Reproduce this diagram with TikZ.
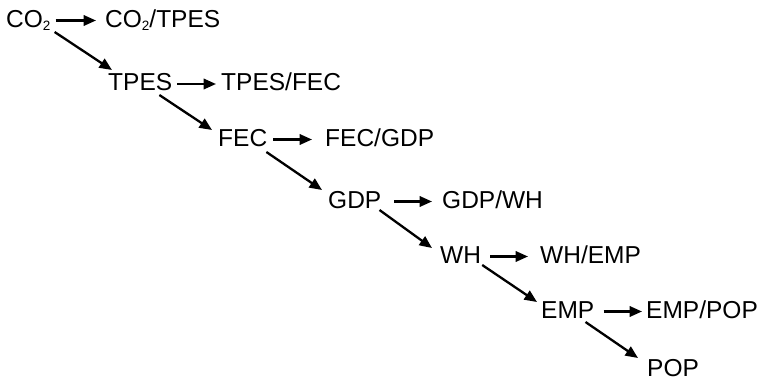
\documentclass[tikz,border=0pt]{standalone}
\usepackage{fontspec}
\setmainfont{Liberation Sans}
\usepackage{tikz}
\usetikzlibrary{arrows.meta}
\newcommand{\subtwo}{\raisebox{-3.7pt}{\fontsize{13.5}{13.5}\selectfont 2}}

\begin{document}
\begin{tikzpicture}[x=1pt,y=-1pt,
		lbl/.style={anchor=base west,inner sep=0pt,font=\fontsize{24.5}{28}\selectfont},
		arr/.style={-{Triangle[length=12.5pt,width=10.5pt]},line width=2.3pt}]
		\useasboundingbox (0,0) rectangle (757,381);
		\node (co2) at (6,27) [lbl] {CO\subtwo};
		\node (co2tpes) at (105,27) [lbl] {CO\subtwo/TPES};
		\node (tpes) at (108,90.5) [lbl] {TPES};
		\node (tpesfec) at (221,90.5) [lbl] {TPES/FEC};
		\node (fec) at (218,146) [lbl] {FEC};
		\node (fecgdp) at (325,146) [lbl] {FEC/GDP};
		\node (gdp) at (328,208) [lbl] {GDP};
		\node (gdpwh) at (442,208) [lbl] {GDP/WH};
		\node (wh) at (440,263) [lbl] {WH};
		\node (whemp) at (540,263) [lbl] {WH/EMP};
		\node (emp) at (541,318) [lbl] {EMP};
		\node (emppop) at (646,318) [lbl] {EMP/POP};
		\node (pop) at (647,376.5) [lbl] {POP};
		% ratios
		\draw [arr] ([shift={(5pt,6.5pt)}]co2.base east)--([shift={(-9pt,6.5pt)}]co2tpes.base west);
		\draw [arr] ([shift={(5pt,6.5pt)}]tpes.base east)--([shift={(-5pt,6.5pt)}]tpesfec.base west);
		\draw [arr] ([shift={(6pt,6.5pt)}]fec.base east)--([shift={(-13pt,6.5pt)}]fecgdp.base west);
		\draw [arr] ([shift={(13pt,6.5pt)}]gdp.base east)--([shift={(-10pt,6.5pt)}]gdpwh.base west);
		\draw [arr] ([shift={(9pt,6.5pt)}]wh.base east)--([shift={(-12pt,6.5pt)}]whemp.base west);
		\draw [arr] ([shift={(9pt,6.5pt)}]emp.base east)--([shift={(-4pt,6.5pt)}]emppop.base west);
		% chain
		\draw [arr] ([shift={(4pt,-5pt)}]co2.base east)--([shift={(4pt,20.5pt)}]tpes.base west);
		\draw [arr] ([shift={(-13pt,-4.5pt)}]tpes.base east)--([shift={(-6pt,16pt)}]fec.base west);
		\draw [arr] ([shift={(-1pt,-6pt)}]fec.base east)--([shift={(-6pt,18pt)}]gdp.base west);
		\draw [arr] ([shift={(-2pt,-2pt)}]gdp.base east)--([shift={(-8pt,15pt)}]wh.base west);
		\draw [arr] ([shift={(1pt,-2pt)}]wh.base east)--([shift={(-4pt,16pt)}]emp.base west);
		\draw [arr] ([shift={(-9pt,-4pt)}]emp.base east)--([shift={(-9pt,18.5pt)}]pop.base west);
\end{tikzpicture}
\end{document}
